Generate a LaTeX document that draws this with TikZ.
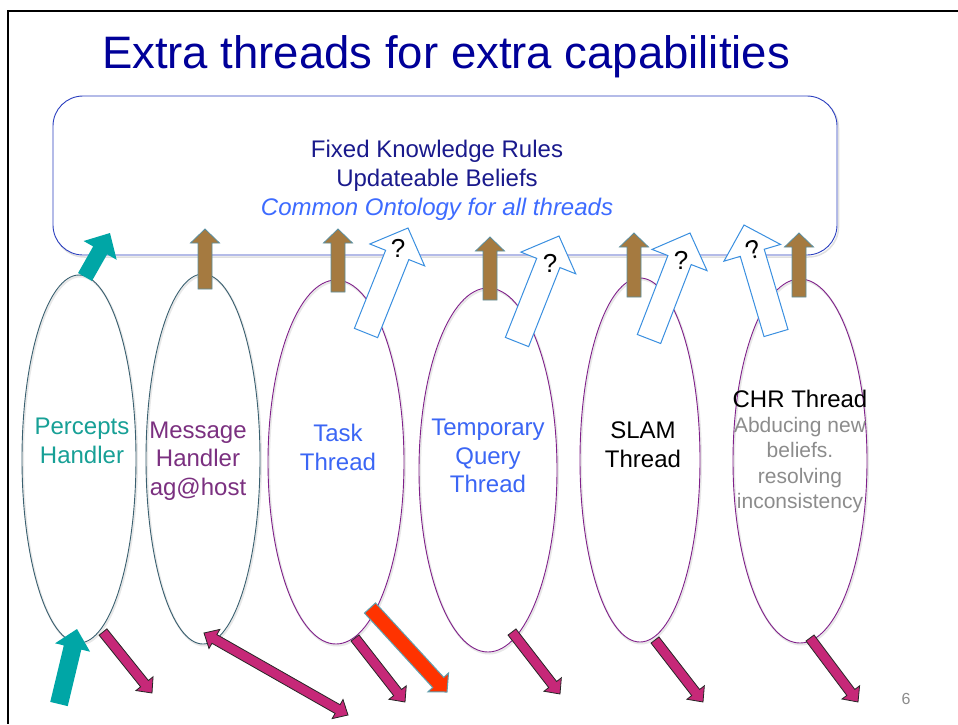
\documentclass[tikz,border=0pt]{standalone}
\usepackage{fontspec}
\setmainfont{Liberation Sans}
\usetikzlibrary{shapes.geometric,calc}
\definecolor{titleblue}{HTML}{000099}
\definecolor{boxtext}{HTML}{1A1A8C}
\definecolor{ontoblue}{HTML}{3D6BFF}
\definecolor{boxline}{HTML}{2B3FBF}
\definecolor{slateline}{HTML}{3A6070}
\definecolor{purpline}{HTML}{80208A}
\definecolor{perceptc}{HTML}{17A096}
\definecolor{messagec}{HTML}{7B3080}
\definecolor{taskc}{HTML}{3B66F5}
\definecolor{greytext}{HTML}{8C8C8C}
\definecolor{tealfill}{HTML}{00A6A6}
\definecolor{brownfill}{HTML}{A57A40}
\definecolor{brownline}{HTML}{5B8FA0}
\definecolor{qline}{HTML}{3A8FE0}
\definecolor{magfill}{HTML}{C62878}
\definecolor{redfill}{HTML}{FF3300}
\definecolor{redline}{HTML}{5FA0B0}
\newcommand\myblockarrow[6]{%
  \coordinate (tmpH) at ($(#2)!#5!(#1)$);
  \draw[#6] ($(#1)!#3!90:(#2)$) -- ($(tmpH)!#3!-90:(#1)$) -- ($(tmpH)!#4!-90:(#1)$) -- (#2)
    -- ($(tmpH)!#4!90:(#1)$) -- ($(tmpH)!#3!90:(#1)$) -- ($(#1)!#3!-90:(#2)$) -- cycle;}
\newcommand\mydblarrow[6]{%
  \coordinate (tmpH) at ($(#2)!#5!(#1)$);
  \coordinate (tmpG) at ($(#1)!#5!(#2)$);
  \draw[#6] (#1) -- ($(tmpG)!#4!90:(#2)$) -- ($(tmpG)!#3!90:(#2)$) -- ($(tmpH)!#3!-90:(#1)$)
    -- ($(tmpH)!#4!-90:(#1)$) -- (#2) -- ($(tmpH)!#4!90:(#1)$) -- ($(tmpH)!#3!90:(#1)$)
    -- ($(tmpG)!#3!-90:(#2)$) -- ($(tmpG)!#4!-90:(#2)$) -- cycle;}
\tikzset{
  lbl/.style={align=center, font=\fontsize{24}{28.5}\selectfont},
  small/.style={align=center, font=\fontsize{21}{25.3}\selectfont, text=greytext},
  thread/.style={ellipse, inner sep=0pt, line width=0.9pt},
  shadowline/.style={draw=black!9, line width=2pt},
  brownarrow/.style={fill=brownfill, draw=brownline, line width=0.8pt},
  tealarrow/.style={fill=tealfill, draw=none},
  qarrow/.style={fill=white, draw=qline, line width=1pt},
  qmark/.style={font=\fontsize{26}{30}\selectfont, inner sep=0pt},
  magarrow/.style={fill=magfill, draw=black!85, line width=0.8pt},
  redarrow/.style={fill=redfill, draw=redline, line width=1pt},
}
\begin{document}
\begin{tikzpicture}[x=1pt,y=-1pt]
\useasboundingbox (0,0) rectangle (958,724);
\fill[white] (0,0) rectangle (958,724);
% frame
\draw[black, line width=2.4pt] (958,11) -- (8,11) -- (8,724);
% title
\node[anchor=base, text=titleblue, font=\fontsize{45.5}{50}\selectfont] (title) at (446,68) {Extra threads for extra capabilities};
% knowledge box
\draw[black!12, line width=1.5pt, rounded corners=30pt] (54.5,98) rectangle (838.5,257);
\node[draw=boxline, fill=white, line width=0.9pt, rounded corners=30pt, minimum width=784pt, minimum height=159pt, inner sep=0pt] (kb) at (445,175.5) {};
\node[align=center, text=boxtext, font=\fontsize{24}{28.8}\selectfont] (kbtext) at (437,180)
  {Fixed Knowledge Rules\\Updateable Beliefs\\{\color{ontoblue}\itshape Common Ontology for all threads}};
% ellipse shadows
\draw[shadowline] (80,460.5) ellipse [x radius=57, y radius=184];
\draw[shadowline] (204,460.5) ellipse [x radius=57, y radius=185];
\draw[shadowline] (337,463.5) ellipse [x radius=68, y radius=182];
\draw[shadowline] (489,471.5) ellipse [x radius=69, y radius=182];
\draw[shadowline] (641,461.5) ellipse [x radius=60, y radius=182];
\draw[shadowline] (801,462.5) ellipse [x radius=67, y radius=182];
% threads
\node[thread, draw=slateline, minimum width=114pt, minimum height=368pt] (e1) at (79,459) {};
\node[thread, draw=slateline, minimum width=114pt, minimum height=370pt] (e2) at (203,459) {};
\node[thread, draw=purpline, minimum width=136pt, minimum height=364pt] (e3) at (336,462) {};
\node[thread, draw=purpline, minimum width=138pt, minimum height=364pt] (e4) at (488,470) {};
\node[thread, draw=purpline, minimum width=120pt, minimum height=364pt] (e5) at (640,460) {};
\node[thread, draw=purpline, minimum width=134pt, minimum height=364pt] (e6) at (800,461) {};
% labels
\node[lbl, text=perceptc] (t1) at (82,441) {Percepts\\Handler};
\node[lbl, text=messagec] (t2) at (198,461) {Message\\Handler\\ag@host};
\node[lbl, text=taskc] (t3) at (338,447.5) {Task\\Thread};
\node[lbl, text=taskc] (t4) at (488,456) {Temporary\\Query\\Thread};
\node[lbl, text=black] (t5) at (643,444.5) {SLAM\\Thread};
\node[lbl, text=black] (t6) at (800,399) {CHR Thread};
\node[small] (t6b) at (800,465) {Abducing new\\beliefs.\\resolving\\inconsistency};
% arrow end points
\coordinate (b2s) at (205,289); \coordinate (b2t) at (205,229);
\coordinate (b3s) at (338,292); \coordinate (b3t) at (338,229);
\coordinate (b4s) at (490,300); \coordinate (b4t) at (490,237);
\coordinate (b5s) at (634,297); \coordinate (b5t) at (634,233);
\coordinate (b6s) at (799,297); \coordinate (b6t) at (799,233);
\coordinate (p1s) at (85,277);  \coordinate (p1t) at (110,233);
\coordinate (p0s) at (59,704);  \coordinate (p0t) at (77,629);
\coordinate (w1s) at (366,333); \coordinate (w1t) at (408,228);
\coordinate (w2s) at (517,342); \coordinate (w2t) at (559,236);
\coordinate (w3s) at (649,339); \coordinate (w3t) at (690,233);
\coordinate (w4s) at (776,333); \coordinate (w4t) at (744,225);
\coordinate (m1s) at (103,632); \coordinate (m1t) at (152,693);
\coordinate (m2s) at (204,633); \coordinate (m2t) at (348,715);
\coordinate (m3s) at (355,638); \coordinate (m3t) at (405,702);
\coordinate (m4s) at (512,632); \coordinate (m4t) at (560,694);
\coordinate (m5s) at (655,640); \coordinate (m5t) at (703,702);
\coordinate (m6s) at (810,638); \coordinate (m6t) at (858,702);
\coordinate (r1s) at (370,608); \coordinate (r1t) at (447,692);
% brown arrows
\myblockarrow{b2s}{b2t}{7pt}{14.5pt}{14pt}{brownarrow}
\myblockarrow{b3s}{b3t}{7pt}{14.5pt}{14pt}{brownarrow}
\myblockarrow{b4s}{b4t}{7pt}{14.5pt}{14pt}{brownarrow}
\myblockarrow{b5s}{b5t}{7pt}{14.5pt}{14pt}{brownarrow}
\myblockarrow{b6s}{b6t}{7pt}{14.5pt}{14pt}{brownarrow}
% teal arrows
\myblockarrow{p1s}{p1t}{8pt}{19pt}{20pt}{tealarrow}
\myblockarrow{p0s}{p0t}{9pt}{18pt}{19pt}{tealarrow}
% question arrows
\myblockarrow{w1s}{w1t}{12.5pt}{29.5pt}{29pt}{qarrow}
\myblockarrow{w2s}{w2t}{12.5pt}{29.5pt}{29pt}{qarrow}
\myblockarrow{w3s}{w3t}{12.5pt}{29.5pt}{29pt}{qarrow}
\myblockarrow{w4s}{w4t}{12.5pt}{29.5pt}{29pt}{qarrow}
\node[qmark] (q1) at (398,248) {?};
\node[qmark] (q2) at (550,263) {?};
\node[qmark] (q3) at (681,260) {?};
\node[qmark, rotate=18] (q4) at (753,250) {?};
% magenta arrows
\myblockarrow{m1s}{m1t}{5pt}{11pt}{12pt}{magarrow}
\mydblarrow{m2s}{m2t}{5pt}{11pt}{12pt}{magarrow}
\myblockarrow{m3s}{m3t}{5pt}{11pt}{12pt}{magarrow}
\myblockarrow{m4s}{m4t}{5pt}{11pt}{12pt}{magarrow}
\myblockarrow{m5s}{m5t}{5pt}{11pt}{12pt}{magarrow}
\myblockarrow{m6s}{m6t}{5pt}{11pt}{12pt}{magarrow}
% red arrow
\myblockarrow{r1s}{r1t}{7.5pt}{14pt}{13pt}{redarrow}
% page number
\node[text=greytext, font=\fontsize{16}{19}\selectfont] (pg) at (906,699) {6};
\end{tikzpicture}
\end{document}
